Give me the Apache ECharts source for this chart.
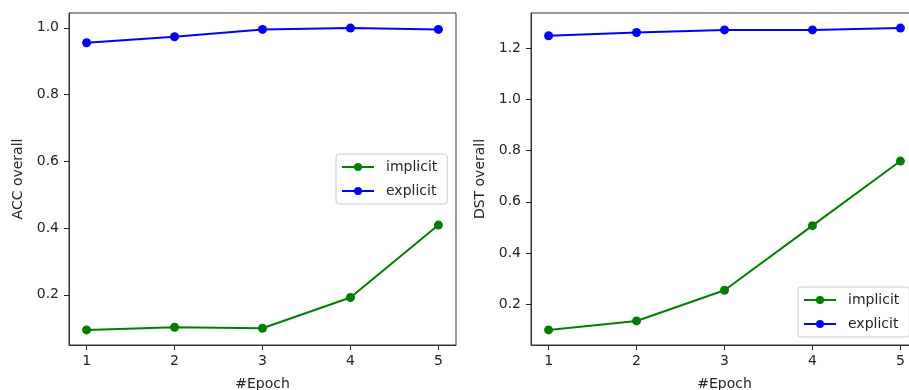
<!DOCTYPE html>
<html>
<head>
<meta charset="utf-8">
<script src="https://cdn.jsdelivr.net/npm/echarts@6/dist/echarts.min.js"></script>
<style>html,body{margin:0;padding:0;background:#fff}#c{width:909px;height:390px}</style>
</head>
<body>
<div id="c"></div>
<script>
const epochs = [1, 2, 3, 4, 5];
const accImplicit = [0.095, 0.103, 0.100, 0.192, 0.409];
const accExplicit = [0.955, 0.973, 0.995, 0.999, 0.995];
const dstImplicit = [0.100, 0.135, 0.255, 0.507, 0.759];
const dstExplicit = [1.248, 1.261, 1.271, 1.271, 1.278];
const accTicks = [0.2, 0.4, 0.6, 0.8, 1.0];
const dstTicks = [0.2, 0.4, 0.6, 0.8, 1.0, 1.2];
const xTicks = [1, 2, 3, 4, 5];

function pad(arr) {
  const mn = Math.min(...arr), mx = Math.max(...arr), r = mx - mn;
  return [mn - 0.05 * r, mx + 0.05 * r];
}
const accR = pad(accImplicit.concat(accExplicit));
const dstR = pad(dstImplicit.concat(dstExplicit));
const xR = pad(epochs);

const FONT = 'DejaVu Sans';
const FS = 14;
const txt = '#262626';

function xAxis(gi) {
  return {
    type: 'value', gridIndex: gi, min: xR[0], max: xR[1],
    name: '#Epoch', nameLocation: 'middle', nameGap: 32,
    nameTextStyle: {fontFamily: FONT, fontSize: FS, color: txt},
    axisLine: {show: true, lineStyle: {color: '#333', width: 1}},
    axisTick: {show: true, length: 5, lineStyle: {color: '#222', width: 1}, customValues: xTicks},
    axisLabel: {fontFamily: FONT, fontSize: FS, color: txt, margin: 9, customValues: xTicks, formatter: v => String(v)},
    splitLine: {show: false}
  };
}
function yAxis(gi, r, ticks, name) {
  return {
    type: 'value', gridIndex: gi, min: r[0], max: r[1],
    name: name, nameLocation: 'middle', nameGap: 44, nameRotate: 90,
    nameTextStyle: {fontFamily: FONT, fontSize: FS, color: txt},
    axisLine: {show: true, lineStyle: {color: '#333', width: 1}},
    axisTick: {show: true, length: 5, lineStyle: {color: '#222', width: 1}, customValues: ticks},
    axisLabel: {fontFamily: FONT, fontSize: FS, color: txt, margin: 10, customValues: ticks, formatter: v => v.toFixed(1)},
    splitLine: {show: false}
  };
}
function series(name, gi, data, color) {
  return {
    type: 'line', name: name, xAxisIndex: gi, yAxisIndex: gi,
    data: epochs.map((e, i) => [e, data[i]]),
    symbol: 'circle', symbolSize: 9, showSymbol: true,
    lineStyle: {color: color, width: 2}, itemStyle: {color: color},
    emphasis: {disabled: true}
  };
}
function legend(left, top) {
  return {
    orient: 'vertical', left: left, top: top,
    data: ['implicit', 'explicit'],
    itemWidth: 32, itemHeight: 10, itemGap: 8,
    padding: [5, 10, 5, 5],
    backgroundColor: 'rgba(255,255,255,0.8)', borderColor: '#ccc', borderWidth: 1, borderRadius: 3,
    textStyle: {fontFamily: FONT, fontSize: FS, color: txt, lineHeight: 16, padding: [0, 0, 0, 7]},
    selectedMode: false
  };
}

const chart = echarts.init(document.getElementById('c'), null, {renderer: 'canvas'});
chart.setOption({
  animation: false,
  backgroundColor: '#fff',
  grid: [
    {left: 69, top: 13, width: 387, height: 332, outerBoundsMode: 'none', containLabel: false, show: true, borderColor: '#333', borderWidth: 1, backgroundColor: 'transparent'},
    {left: 531, top: 13, width: 387, height: 332, outerBoundsMode: 'none', containLabel: false, show: true, borderColor: '#333', borderWidth: 1, backgroundColor: 'transparent'}
  ],
  xAxis: [xAxis(0), xAxis(1)],
  yAxis: [yAxis(0, accR, accTicks, 'ACC overall'), yAxis(1, dstR, dstTicks, 'DST overall')],
  legend: [legend(336, 154), legend(798, 287)],
  series: [
    series('implicit', 0, accImplicit, '#008000'),
    series('explicit', 0, accExplicit, '#0000ff'),
    series('implicit', 1, dstImplicit, '#008000'),
    series('explicit', 1, dstExplicit, '#0000ff')
  ]
});
</script>
</body>
</html>
